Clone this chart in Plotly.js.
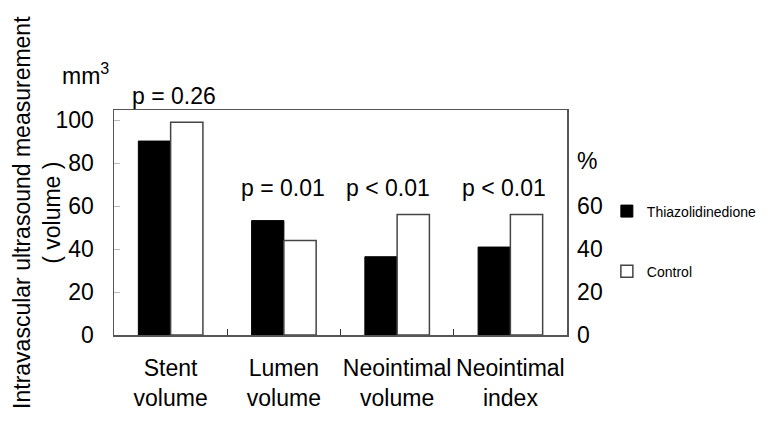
<!DOCTYPE html>
<html>
<head>
<meta charset="utf-8">
<script src="https://cdn.plot.ly/plotly-3.0.1.min.js"></script>
<style>html,body{margin:0;padding:0;background:#fff;}#chart{width:774px;height:424px;}</style>
</head>
<body>
<div id="chart"></div>
<script>
// ---- data ----
const categories = ['Stent volume', 'Lumen volume', 'Neointimal volume', 'Neointimal index'];
const thiazolidinedione = [90.2, 53.2, 36.4, 40.9];
const control = [98.9, 44.0, 56.1, 56.1];
const pLabels = ['p = 0.26', 'p = 0.01', 'p < 0.01', 'p < 0.01'];
const leftTicks = [0, 20, 40, 60, 80, 100];
const rightTicks = [0, 20, 40, 60];
const seriesNames = ['Thiazolidinedione', 'Control'];

// ---- styling / placement (not data) ----
const FONT = 'Liberation Sans, Arial, sans-serif';
const AX = '#555';
const yTop = 104.65;
const pLabelY = [111, 68.4, 68.4, 68.4];
const pLabelShift = [3, -1, -9, -6];

const xCats = categories.map(c => c.replace(' ', '<br>'));

const traces = [
  {
    type: 'bar', name: seriesNames[0], x: xCats, y: thiazolidinedione,
    marker: {color: '#000', line: {color: '#000', width: 1}},
    legendgroup: 'a', hoverinfo: 'skip'
  },
  {
    type: 'bar', name: seriesNames[1], x: xCats, y: control,
    marker: {color: '#fff', line: {color: '#444', width: 1.5}},
    legendgroup: 'b', hoverinfo: 'skip'
  },
  {
    type: 'scatter', mode: 'markers', x: [xCats[0]], y: [0], yaxis: 'y2',
    marker: {opacity: 0}, showlegend: false, hoverinfo: 'skip'
  }
];

const annotations = pLabels.map((t, i) => ({
  x: xCats[i], y: pLabelY[i] / yTop, xref: 'x', yref: 'paper', text: t, showarrow: false,
  xshift: pLabelShift[i], font: {family: FONT, size: 23, color: '#000'},
  xanchor: 'center', yanchor: 'middle'
}));
annotations.push({
  xref: 'paper', yref: 'paper', x: -0.1187, y: 1.16, xanchor: 'left', yanchor: 'middle',
  text: 'mm<sup>3</sup>', showarrow: false, font: {family: FONT, size: 23, color: '#000'}
});
annotations.push({
  xref: 'paper', yref: 'paper', x: 1.044, y: 0.773, xanchor: 'center', yanchor: 'middle',
  text: '%', showarrow: false, font: {family: FONT, size: 23, color: '#000'}
});
annotations.push({
  xref: 'paper', yref: 'paper', x: -0.170, y: 0.547, xanchor: 'center', yanchor: 'middle',
  textangle: -90, text: 'Intravascular ultrasound measurement<br>( volume )',
  showarrow: false, font: {family: FONT, size: 23, color: '#000'}
});

const layout = {
  width: 774, height: 424,
  margin: {l: 114, r: 205, t: 110, b: 89, pad: 0},
  paper_bgcolor: '#fff', plot_bgcolor: '#fff',
  font: {family: FONT, size: 23, color: '#000'},
  barmode: 'group', bargap: 0.43, bargroupgap: 0,
  showlegend: true,
  legend: {
    x: 1.088, y: 0.62, xanchor: 'left', yanchor: 'top',
    font: {family: FONT, size: 14, color: '#000'},
    tracegroupgap: 39, bgcolor: 'rgba(0,0,0,0)', borderwidth: 0
  },
  xaxis: {
    type: 'category', showline: true, linecolor: AX, linewidth: 1.5, mirror: true,
    ticks: 'inside', tickson: 'boundaries', ticklen: 6, tickcolor: '#333', tickwidth: 1,
    showgrid: false, zeroline: false, tickangle: 0,
    tickfont: {family: FONT, size: 23, color: '#000'}, ticklabelstandoff: 12
  },
  yaxis: {
    range: [0, yTop], tickmode: 'array', tickvals: leftTicks,
    showline: true, linecolor: AX, linewidth: 1.5, showgrid: false, zeroline: false,
    ticks: 'inside', ticklen: 6, tickcolor: '#bbb', tickwidth: 1,
    tickfont: {family: FONT, size: 23, color: '#000'}, ticklabelstandoff: 14
  },
  yaxis2: {
    overlaying: 'y', side: 'right', range: [0, yTop], tickmode: 'array', tickvals: rightTicks,
    showline: true, linecolor: AX, linewidth: 1.5, showgrid: false, zeroline: false,
    ticks: '', tickfont: {family: FONT, size: 23, color: '#000'}, ticklabelstandoff: 4
  },
  annotations: annotations
};

Plotly.newPlot('chart', traces, layout, {staticPlot: true, displayModeBar: false});
</script>
</body>
</html>
